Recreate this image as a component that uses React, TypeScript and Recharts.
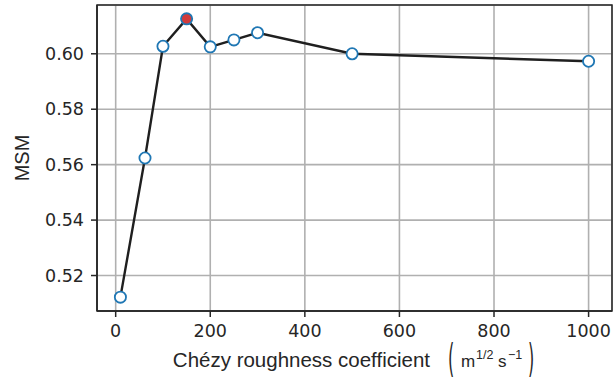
import { LineChart, Line, XAxis, YAxis, CartesianGrid, ReferenceArea, Label } from "recharts"

// Chézy coefficient (m^1/2 s^-1) vs MSM skill score
const roughness = [10, 62, 100, 150, 200, 250, 300, 500, 1000]
const msm = [0.5122, 0.5624, 0.6027, 0.6126, 0.6025, 0.605, 0.6076, 0.6, 0.5973]
const xTicks = [0, 200, 400, 600, 800, 1000]
const yTicks = [0.52, 0.54, 0.56, 0.58, 0.6]

const data = roughness.map((c, i) => ({ c, msm: msm[i] }))
const bestIndex = msm.indexOf(Math.max(...msm))

const X_DOMAIN = [-39.5, 1049.5]
const Y_DOMAIN = [0.5072, 0.6176]

const ink = "#262626"
const tickFont = "'DejaVu Sans', sans-serif"
const labelFont = "'Liberation Sans', Arial, sans-serif"

const renderDot = (props: any) => {
  const { cx, cy, index } = props
  return (
    <circle
      key={`dot-${index}`}
      cx={cx}
      cy={cy}
      r={5.6}
      fill={index === bestIndex ? "#d13b3b" : "#ffffff"}
      stroke="#1f77b4"
      strokeWidth={1.8}
    />
  )
}

function XLabel() {
  const base = 367
  return (
    <g fill={ink}>
      <text x={430} y={base} textAnchor="end" fontFamily={labelFont} fontSize={20.5}>
        Chézy roughness coefficient
      </text>
      <text transform={`translate(451,${base + 5}) scale(1,2.4)`} textAnchor="middle" fontFamily={tickFont} fontSize={16}>
        (
      </text>
      <text x={461} y={base} fontFamily={labelFont} fontSize={17}>
        m
      </text>
      <text x={476} y={base - 8} fontFamily={labelFont} fontSize={12.5}>
        1/2
      </text>
      <text x={498} y={base} fontFamily={labelFont} fontSize={17}>
        s
      </text>
      <text x={508} y={base - 8} fontFamily={labelFont} fontSize={12.5}>
        −1
      </text>
      <text transform={`translate(531,${base + 5}) scale(1,2.4)`} textAnchor="middle" fontFamily={tickFont} fontSize={16}>
        )
      </text>
    </g>
  )
}

function YLabel({ viewBox }: any) {
  const cy = viewBox.y + viewBox.height / 2
  return (
    <text
      x={0}
      y={0}
      transform={`translate(29,${cy}) rotate(-90)`}
      textAnchor="middle"
      fill={ink}
      fontFamily={labelFont}
      fontSize={20}
    >
      MSM
    </text>
  )
}

export default function App() {
  return (
    <div style={{ position: "absolute", left: 0, top: 0, background: "#fff" }}>
      <LineChart width={613} height={383} data={data} margin={{ top: 5, right: 1, bottom: 0, left: 0 }}>
        <CartesianGrid stroke="#b0b0b0" strokeWidth={1.6} />
        <XAxis
          dataKey="c"
          type="number"
          domain={X_DOMAIN}
          ticks={xTicks}
          allowDataOverflow
          height={72}
          stroke={ink}
          strokeWidth={1.5}
          tickSize={6}
          tickMargin={8}
          tick={{ fill: ink, fontFamily: tickFont, fontSize: 17.5 }}
        >
          <Label content={<XLabel />} />
        </XAxis>
        <YAxis
          type="number"
          domain={Y_DOMAIN}
          ticks={yTicks}
          allowDataOverflow
          width={97}
          stroke={ink}
          strokeWidth={1.5}
          tickSize={6}
          tickMargin={7}
          tickFormatter={(v: number) => v.toFixed(2)}
          tick={{ fill: ink, fontFamily: tickFont, fontSize: 17.5 }}
        >
          <Label content={<YLabel />} />
        </YAxis>
        <ReferenceArea
          x1={X_DOMAIN[0]}
          x2={X_DOMAIN[1]}
          y1={Y_DOMAIN[0]}
          y2={Y_DOMAIN[1]}
          fill="none"
          stroke={ink}
          strokeWidth={1.5}
          ifOverflow="visible"
        />
        <Line
          dataKey="msm"
          stroke="#1f1f1f"
          strokeWidth={2.4}
          dot={renderDot}
          activeDot={false}
          isAnimationActive={false}
        />
      </LineChart>
    </div>
  )
}
